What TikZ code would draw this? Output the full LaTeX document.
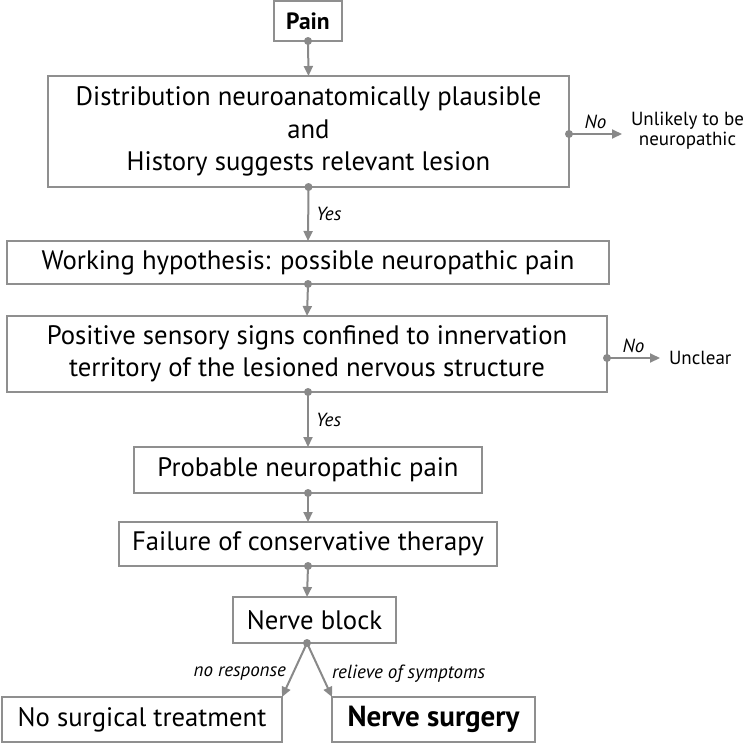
\documentclass[tikz,border=0pt]{standalone}
\usepackage{fontspec}
\setmainfont{PT Sans}
\usetikzlibrary{arrows.meta}
\definecolor{boxgray}{RGB}{143,143,143}
\definecolor{arrgray}{RGB}{137,137,137}

\begin{document}
\begin{tikzpicture}[x=1pt,y=-1pt,
  every node/.style={inner sep=0pt, outer sep=0pt},
  box/.style={draw=boxgray, line width=1.6pt, fill=white, align=center, font=\fontsize{26.7}{32.5}\selectfont},
  conn/.style={draw=arrgray, line width=2pt, -{Triangle[length=10pt,width=9pt]}},
  lbl/.style={font=\fontsize{19}{21}\selectfont\itshape},
  side/.style={align=center, font=\fontsize{19}{20}\selectfont}]
\useasboundingbox (0,0) rectangle (746,744);

% boxes
\node[box, minimum width=68, minimum height=40, font=\fontsize{23.5}{28}\selectfont\bfseries] (pain) at (308,21) {Pain};
\node[box, minimum width=521, minimum height=111] (dist) at (308.5,131.5)
  {Distribution neuroanatomically plausible\\and\\History suggests relevant lesion};
\node[box, minimum width=602, minimum height=43] (work) at (308,262.5) {Working hypothesis: possible neuropathic pain};
\node[box, minimum width=600, minimum height=76, font=\fontsize{26.7}{32}\selectfont] (pos) at (307,354)
  {Positive sensory signs confined to innervation\\territory of the lesioned nervous structure};
\node[box, minimum width=348, minimum height=46] (prob) at (308,470) {Probable neuropathic pain};
\node[box, minimum width=378, minimum height=44] (fail) at (308,544) {Failure of conservative therapy};
\node[box, minimum width=163, minimum height=46] (block) at (314.5,620) {Nerve block};
\node[box, minimum width=280, minimum height=45] (nosurg) at (142,719.5) {No surgical treatment};
\node[box, minimum width=203, minimum height=45, font=\fontsize{29}{32}\selectfont\bfseries] (nerve) at (433.5,719.5) {Nerve surgery};

% side outcomes
\node[side] (unlikely) at (687.5,131) {Unlikely to be\\neuropathic};
\node[side, anchor=west] (unclear) at (669,358) {Unclear};
\coordinate (endA) at (622,134);
\coordinate (endB) at (660,358);
\coordinate (split) at (307,643);

% connectors
\draw[conn] (pain.south) -- (dist.north);
\fill[arrgray] (pain.south) circle (4);
\draw[conn] (dist.south) -- (work.north) node[lbl, midway, right=8pt] {Yes};
\fill[arrgray] (dist.south) circle (4);
\draw[conn] (work.south) -- (pos.north);
\fill[arrgray] (work.south) circle (4);
\draw[conn] (308,392) -- (prob.north) node[lbl, midway, right=8pt] {Yes};
\fill[arrgray] (308,392) circle (4);
\draw[conn] (prob.south) -- (fail.north);
\fill[arrgray] (prob.south) circle (4);
\draw[conn] (fail.south) -- (307,597);
\fill[arrgray] (fail.south) circle (4);

\draw[conn] (dist.east |- endA) -- (endA) node[lbl, midway, above=5pt] {No};
\fill[arrgray] (dist.east |- endA) circle (4);
\draw[conn] (pos.east |- endB) -- (endB) node[lbl, midway, above=5pt] {No};
\fill[arrgray] (pos.east |- endB) circle (4);

\draw[conn] (split) -- (nosurg.north east);
\draw[conn] (split) -- (nerve.north west);
\fill[arrgray] (split) circle (4);
\node[lbl, anchor=east] (noresp) at (286,674) {no response};
\node[lbl, anchor=west] (relief) at (332,674) {relieve of symptoms};
\end{tikzpicture}
\end{document}
